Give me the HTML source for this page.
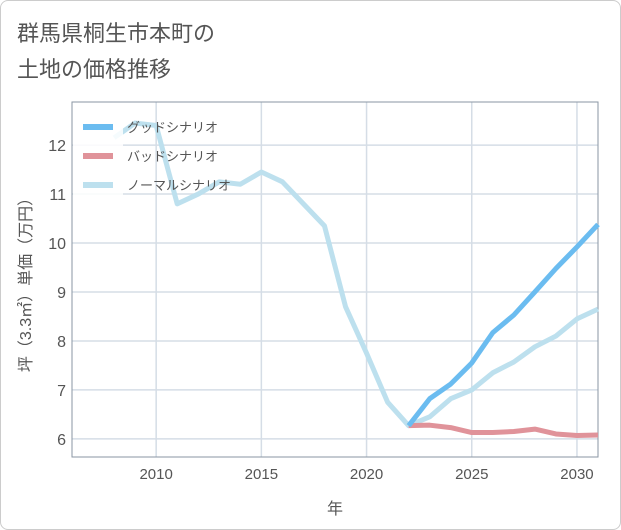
<!DOCTYPE html>
<html><head><meta charset="utf-8"><style>
body{margin:0;background:#fff;font-family:"Liberation Sans","Noto Sans CJK JP",sans-serif;}
#wrap{position:relative;width:619px;height:528px;border:1px solid #ccc;border-radius:8px;overflow:hidden;}
</style></head><body>
<div id="wrap">
<svg id="chart" width="619" height="528" font-family="Liberation Sans, Noto Sans CJK JP, sans-serif">
<text x="16" y="40" font-size="22" fill="#555">群馬県桐生市本町の</text>
<text x="16" y="76" font-size="22" fill="#555">土地の価格推移</text>
<g id="grid"></g><g id="series"></g><g id="legend"></g>
</svg>
</div>
<script>
const years=[2008,2009,2010,2011,2012,2013,2014,2015,2016,2017,2018,2019,2020,2021,2022,2023,2024,2025,2026,2027,2028,2029,2030,2031];
const normal=[12.15,12.45,12.4,10.8,11.0,11.25,11.2,11.45,11.25,10.8,10.35,8.7,7.75,6.75,6.27,6.45,6.82,7.0,7.35,7.57,7.88,8.1,8.45,8.65];
const goodYears=[2022,2023,2024,2025,2026,2027,2028,2029,2030,2031];
const good=[6.27,6.82,7.12,7.55,8.17,8.53,9.0,9.48,9.92,10.38];
const bad=[6.27,6.28,6.23,6.13,6.13,6.15,6.2,6.1,6.07,6.08];
const xTicks=[2010,2015,2020,2025,2030];
const yTicks=[6,7,8,9,10,11,12];
const NS='http://www.w3.org/2000/svg';
const L=71,R=597,T=101,B=456;
const x=v=>L+(v-2006)*(R-L)/25;
const y=v=>B-(v-5.63)*(B-T)/(12.88-5.63);
function mk(tag,a,p){const e=document.createElementNS(NS,tag);for(const k in a)e.setAttribute(k,a[k]);p.appendChild(e);return e;}
const grid=document.getElementById('grid');
xTicks.forEach(t=>{
 const l=mk('line',{x1:x(t),x2:x(t),y1:T,y2:B,stroke:'#d5dde6','stroke-width':1.5},grid);
 
 
 const tx=mk('text',{x:x(t),y:478,'font-size':15,fill:'#555','text-anchor':'middle'},grid);tx.textContent=t;
 
 
});
yTicks.forEach(t=>{
 const l=mk('line',{x1:L,x2:R,y1:y(t),y2:y(t),stroke:'#d5dde6','stroke-width':1.5},grid);
 
 
 const tx=mk('text',{x:L-6,y:y(t)+6,'font-size':16,fill:'#555','text-anchor':'end'},grid);tx.textContent=t;
 
 
});
const frame=mk('rect',{x:L,y:T,width:R-L,height:B-T,fill:'none',stroke:'#8a96a3','stroke-width':1},grid);


const xt=mk('text',{x:334,y:513,'font-size':16,fill:'#555','text-anchor':'middle'},grid);xt.textContent='年';


const yt=mk('text',{transform:'translate(30,280) rotate(-90)','font-size':16,fill:'#555','text-anchor':'middle'},grid);yt.textContent='坪（3.3㎡）単価（万円）';


const ser=document.getElementById('series');
function line(xs,vs,color,name){
 const p=mk('polyline',{points:xs.map((t,i)=>x(t)+','+y(vs[i])).join(' '),fill:'none',stroke:color,'stroke-width':5,'stroke-linejoin':'round'},ser);
 
 
}
line(years,normal,'#bde0ee','normal-scenario-line');
line(goodYears,bad,'#e0939a','bad-scenario-line');
line(goodYears,good,'#6bbcf0','good-scenario-line');
const lg=document.getElementById('legend');
const bg=mk('rect',{x:L+1,y:T+1,width:50,height:95,fill:'#fff','fill-opacity':0.85},lg);


[['グッドシナリオ','#6bbcf0'],['バッドシナリオ','#e0939a'],['ノーマルシナリオ','#bde0ee']].forEach((d,i)=>{
 const yy=126+i*29;
 const g=mk('g',{},lg);
 
 
 mk('line',{x1:82,x2:112,y1:yy,y2:yy,stroke:d[1],'stroke-width':6},g);
 const t=mk('text',{x:126,y:yy+5,'font-size':13,fill:'#555'},g);t.textContent=d[0];
});
</script>
</body></html>
